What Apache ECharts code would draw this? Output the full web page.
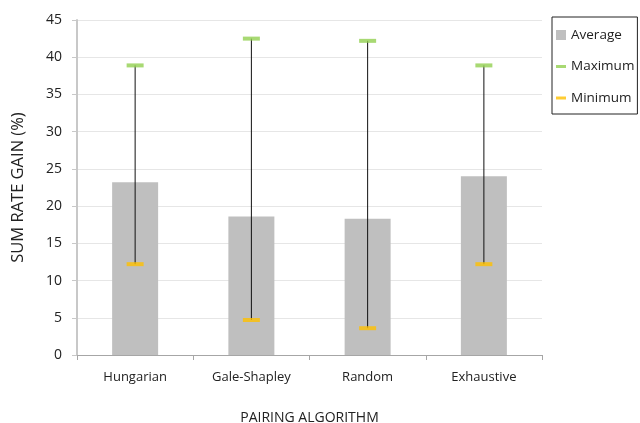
<!DOCTYPE html>
<html><head><meta charset="utf-8">
<script src="https://cdn.jsdelivr.net/npm/echarts@6/dist/echarts.min.js"></script>
<style>html,body{margin:0;padding:0;background:#fff}#c{width:640px;height:423px}</style>
</head><body><div id="c"></div>
<script>
var categories = ['Hungarian', 'Gale-Shapley', 'Random', 'Exhaustive'];
var average = [23.2, 18.6, 18.3, 24.0];
var maximum = [38.9, 42.5, 42.2, 38.9];
var minimum = [12.2, 4.7, 3.6, 12.2];
var yTicks = [0, 45, 5];

var font = 'Open Sans';
var chart = echarts.init(document.getElementById('c'), null, {renderer: 'canvas'});
var rangeData = categories.map(function (c, i) { return [i, minimum[i], maximum[i]]; });
chart.setOption({
  animation: false,
  textStyle: {fontFamily: font},
  grid: {left: 77, right: 98, top: 20, bottom: 68, containLabel: false, outerBoundsMode: 'none'},
  legend: {
    left: 552, top: 17, orient: 'vertical',
    padding: [11, 3, 9, 4], itemGap: 17.5,
    borderColor: '#222', borderWidth: 1,
    itemWidth: 10, itemHeight: 10,
    textStyle: {fontFamily: font, fontSize: 13.5, color: '#222', padding: [0, 0, 0, 0]},
    data: [
      {name: 'Average', icon: 'rect'},
      {name: 'Maximum', icon: 'path://M0,0H10V3H0Z'},
      {name: 'Minimum', icon: 'path://M0,0H10V3H0Z'}
    ]
  },
  xAxis: {
    type: 'category', data: categories,
    name: 'PAIRING ALGORITHM', nameLocation: 'middle', nameGap: 56,
    nameTextStyle: {fontSize: 14, color: '#222', fontFamily: font},
    axisLine: {lineStyle: {color: '#a6a6a6', width: 1}},
    axisTick: {show: true, alignWithLabel: false, length: 5, lineStyle: {color: '#a6a6a6'}},
    axisLabel: {fontSize: 13, color: '#222', margin: 16, fontFamily: font}
  },
  yAxis: {
    type: 'value', min: yTicks[0], max: yTicks[1], interval: yTicks[2],
    name: 'SUM RATE GAIN (%)', nameLocation: 'middle', nameGap: 50, nameRotate: 90,
    nameTextStyle: {fontSize: 16.5, color: '#222', fontFamily: font},
    axisLine: {show: true, lineStyle: {color: '#c8c8c8', width: 2}},
    axisTick: {show: true, length: 5, lineStyle: {color: '#c8c8c8'}},
    splitLine: {lineStyle: {color: '#e6e6e6', width: 1}},
    axisLabel: {fontSize: 14, color: '#222', margin: 15, fontFamily: font}
  },
  series: [
    {name: 'Average', type: 'bar', data: average, barWidth: 46,
     itemStyle: {color: '#bfbfbf'}, z: 1},
    {name: 'range', type: 'custom', data: rangeData, z: 3,
     encode: {x: 0, y: [1, 2]},
     renderItem: function (params, api) {
       var lo = api.coord([api.value(0), api.value(1)]);
       var hi = api.coord([api.value(0), api.value(2)]);
       return {type: 'line', shape: {x1: lo[0], y1: lo[1], x2: hi[0], y2: hi[1]},
               style: {stroke: '#111', lineWidth: 1}};
     }},
    {name: 'Maximum', type: 'scatter', data: maximum, symbol: 'rect',
     symbolSize: [17, 4], itemStyle: {color: '#92d050'}, z: 5},
    {name: 'Minimum', type: 'scatter', data: minimum, symbol: 'rect',
     symbolSize: [17, 4], itemStyle: {color: '#ffc000'}, z: 5}
  ]
});
</script></body></html>
